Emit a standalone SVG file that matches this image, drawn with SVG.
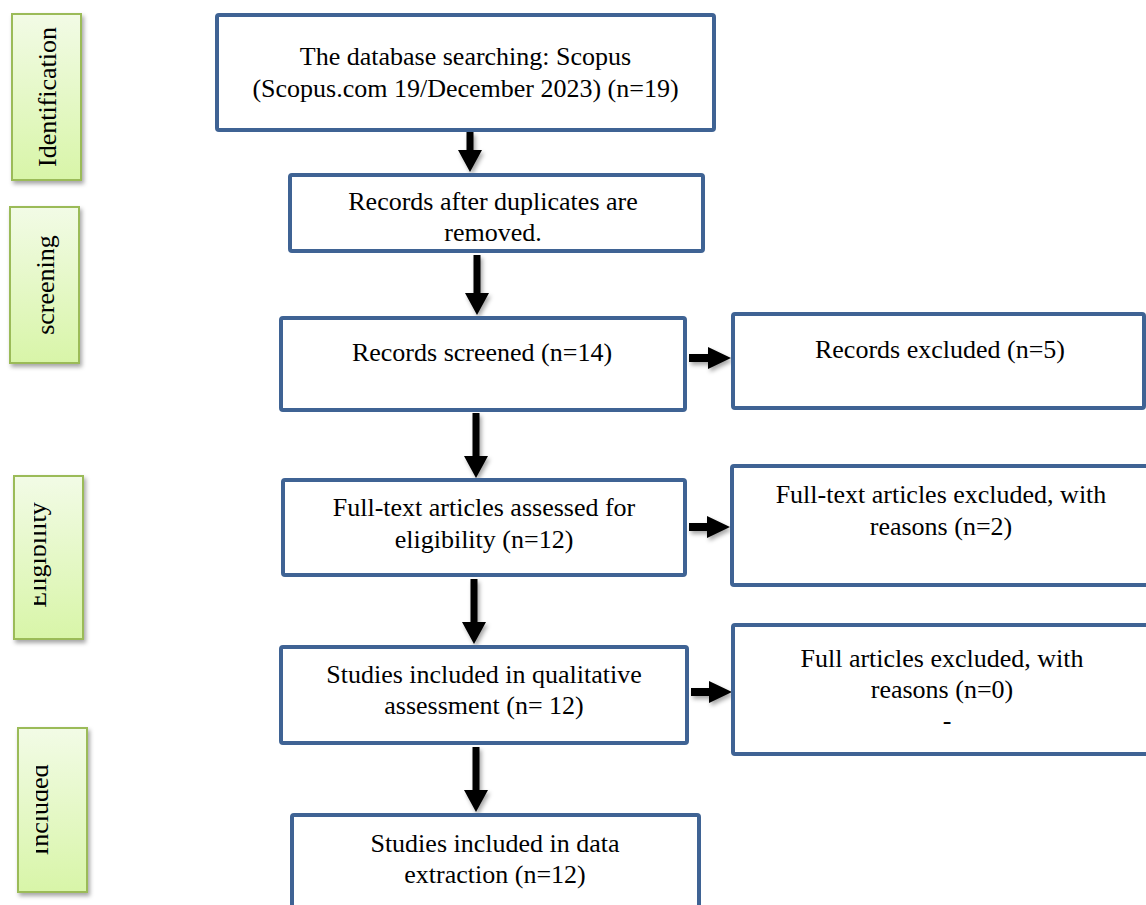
<svg xmlns="http://www.w3.org/2000/svg" width="1146" height="905" viewBox="0 0 1146 905">
<defs>
<style>
.box{fill:#ffffff;stroke:#3f6394;stroke-width:4}
.lab{fill:url(#g);stroke:#9bbb59;stroke-width:2;filter:url(#sh)}
.t{font-family:"Liberation Serif","Times New Roman",serif;font-size:26px;fill:#000;text-anchor:middle}
.arr{fill:#000;filter:url(#sh)}
</style>
<linearGradient id="g" x1="0" y1="0" x2="0" y2="1">
<stop offset="0" stop-color="#f2fbe6"/>
<stop offset="1" stop-color="#d8f5a8"/>
</linearGradient>
<filter id="sh" x="-30%" y="-30%" width="160%" height="160%">
<feDropShadow dx="2" dy="3" stdDeviation="2" flood-color="#000" flood-opacity="0.35"/>
</filter>
<clipPath id="ce"><rect x="34" y="470" width="40" height="170"/></clipPath>
<clipPath id="ci"><rect x="36" y="730" width="40" height="160"/></clipPath>
</defs>

<g id="label-identification">
<rect class="lab" x="12" y="14" width="69" height="166"/>
<text class="t" transform="translate(56,97) rotate(-90)">Identification</text>
</g>
<g id="label-screening">
<rect class="lab" x="10" y="207" width="69" height="156"/>
<text class="t" transform="translate(54,285) rotate(-90)">screening</text>
</g>
<g id="label-eligibility">
<rect class="lab" x="14" y="476" width="69" height="163"/>
<g clip-path="url(#ce)"><text class="t" transform="translate(46,555) rotate(-90)">Eligibility</text></g>
</g>
<g id="label-included">
<rect class="lab" x="18" y="728" width="69" height="164"/>
<g clip-path="url(#ci)"><text class="t" transform="translate(48,810) rotate(-90)">Included</text></g>
</g>

<g id="connectors">
<path class="arr" d="M466.5,132 H473.5 V150 H482 L470,172 L458,150 H466.5 Z"/>
<path class="arr" d="M473.5,255 H480.5 V293 H489 L477,315 L465,293 H473.5 Z"/>
<path class="arr" d="M472.5,413 H479.5 V456 H488 L476,478 L464,456 H472.5 Z"/>
<path class="arr" d="M470.5,579 H477.5 V622 H486 L474,644 L462,622 H470.5 Z"/>
<path class="arr" d="M472.5,747 H479.5 V790 H488 L476,812 L464,790 H472.5 Z"/>
<path class="arr" d="M689,354 H708 V347 L731,358 L708,369 V362 H689 Z"/>
<path class="arr" d="M689,523 H707 V516 L730,527 L707,538 V531 H689 Z"/>
<path class="arr" d="M691,688 H709 V681 L732,692 L709,703 V696 H691 Z"/>
</g>

<g id="node-database">
<rect class="box" x="217" y="15" width="497" height="115" rx="2"/>
<text class="t" x="465.5" y="65">The database searching: Scopus</text>
<text class="t" x="465.5" y="97">(Scopus.com 19/December 2023) (n=19)</text>
</g>
<g id="node-duplicates">
<rect class="box" x="290" y="175" width="413" height="76" rx="2"/>
<text class="t" x="493" y="210">Records after duplicates are</text>
<text class="t" x="493" y="241">removed.</text>
</g>
<g id="node-screened">
<rect class="box" x="281" y="318" width="404" height="92" rx="2"/>
<text class="t" x="482" y="361">Records screened (n=14)</text>
</g>
<g id="node-excluded">
<rect class="box" x="733" y="314" width="411" height="94" rx="2"/>
<text class="t" x="940" y="358">Records excluded (n=5)</text>
</g>
<g id="node-fulltext">
<rect class="box" x="283" y="480" width="402" height="95" rx="2"/>
<text class="t" x="484" y="516">Full-text articles assessed for</text>
<text class="t" x="484" y="548">eligibility (n=12)</text>
</g>
<g id="node-fulltext-excluded">
<rect class="box" x="732" y="466" width="430" height="119" rx="2"/>
<text class="t" x="941" y="503">Full-text articles excluded, with</text>
<text class="t" x="941" y="535">reasons (n=2)</text>
</g>
<g id="node-qualitative">
<rect class="box" x="281" y="647" width="406" height="96" rx="2"/>
<text class="t" x="484" y="683">Studies included in qualitative</text>
<text class="t" x="484" y="714">assessment (n= 12)</text>
</g>
<g id="node-full-excluded">
<rect class="box" x="733" y="625" width="430" height="129" rx="2"/>
<text class="t" x="942" y="667">Full articles excluded, with</text>
<text class="t" x="942" y="698">reasons (n=0)</text>
<text class="t" x="947" y="729">-</text>
</g>
<g id="node-extraction">
<rect class="box" x="292" y="815" width="407" height="100" rx="2"/>
<text class="t" x="495" y="852">Studies included in data</text>
<text class="t" x="495" y="883">extraction (n=12)</text>
</g>
</svg>
